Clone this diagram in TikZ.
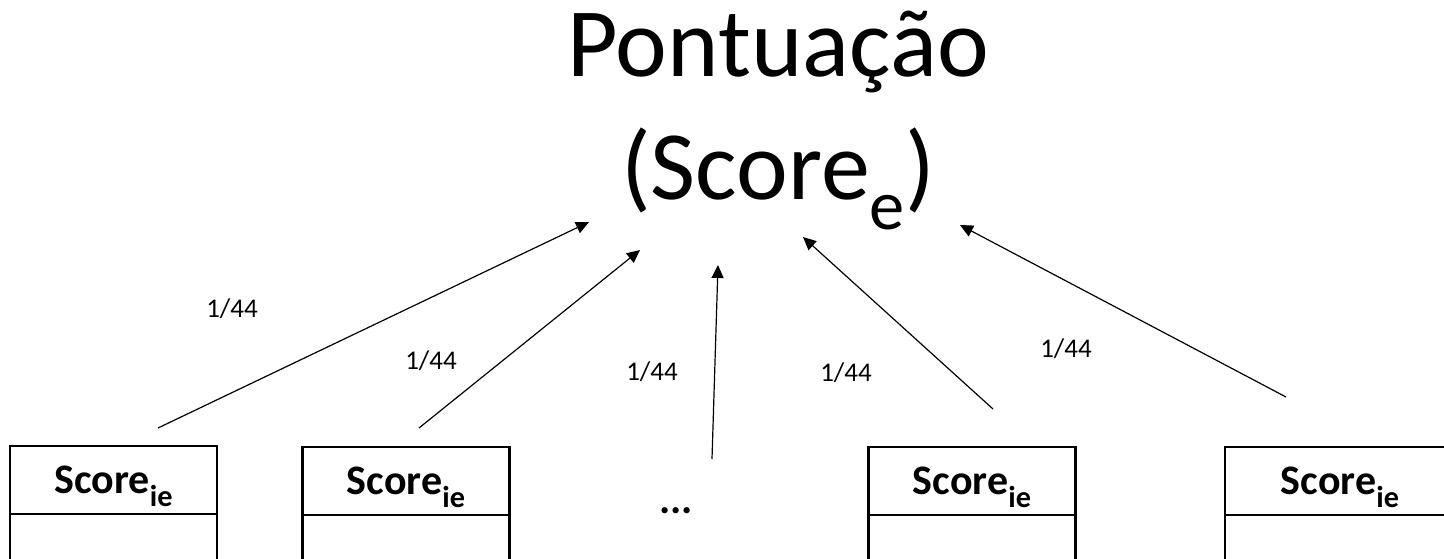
\documentclass[tikz,border=0pt]{standalone}
\usepackage{fontspec}
\usepackage{graphicx}
\setmainfont{Carlito}
\usetikzlibrary{positioning,arrows.meta}
\newcommand{\lowsub}[1]{\smash{\raisebox{-.3em}{\scalebox{.72}{#1}}}}
\tikzset{
  cell/.style={draw,line width=2.2pt,outer sep=0pt,inner sep=0pt,minimum width=207pt,minimum height=68pt,font=\fontsize{42}{42}\selectfont\bfseries},
  weight/.style={font=\fontsize{27}{27}\selectfont},
  headline/.style={anchor=base,font=\fontsize{98}{120}\selectfont},
  feed/.style={-{Triangle[length=13pt,width=12pt]},line width=1.2pt}
}
\begin{document}
\begin{tikzpicture}[x=1pt,y=-1pt]
  \useasboundingbox (0,0) rectangle (1444,559);
  \node[headline] (title) at (778,77) {Pontuação};
  \node[headline] (score) at (778,200) {(Score\lowsub{e})};
  % boxes
  \node[cell] (box1) at (113.5,480) {Score\lowsub{ie}};
  \node[cell,below=0pt of box1] (box1b) {};
  \node[cell] (box2) at (406,481) {Score\lowsub{ie}};
  \node[cell,below=0pt of box2] (box2b) {};
  \node[font=\fontsize{42}{42}\selectfont\bfseries] (dots) at (676,511) {...};
  \node[cell] (box4) at (972,481) {Score\lowsub{ie}};
  \node[cell,below=0pt of box4] (box4b) {};
  \node[cell,minimum width=230pt] (box5) at (1340,481) {Score\lowsub{ie}};
  \node[cell,minimum width=230pt,below=0pt of box5] (box5b) {};
  % arrows
  \coordinate (s1) at (158,428);  \coordinate (t1) at (589,222);
  \coordinate (s2) at (419,428);  \coordinate (t2) at (640,250);
  \coordinate (s3) at (712,459);  \coordinate (t3) at (718,265);
  \coordinate (s4) at (993,409);  \coordinate (t4) at (803,237);
  \coordinate (s5) at (1286,397); \coordinate (t5) at (960,225);
  \foreach \i in {1,...,5}
    \draw[feed] (s\i) -- (t\i);
  \node[weight] (w1) at (232,309) {1/44};
  \node[weight] (w2) at (431,361) {1/44};
  \node[weight] (w3) at (652,372) {1/44};
  \node[weight] (w4) at (846,373) {1/44};
  \node[weight] (w5) at (1066,349) {1/44};
\end{tikzpicture}
\end{document}
